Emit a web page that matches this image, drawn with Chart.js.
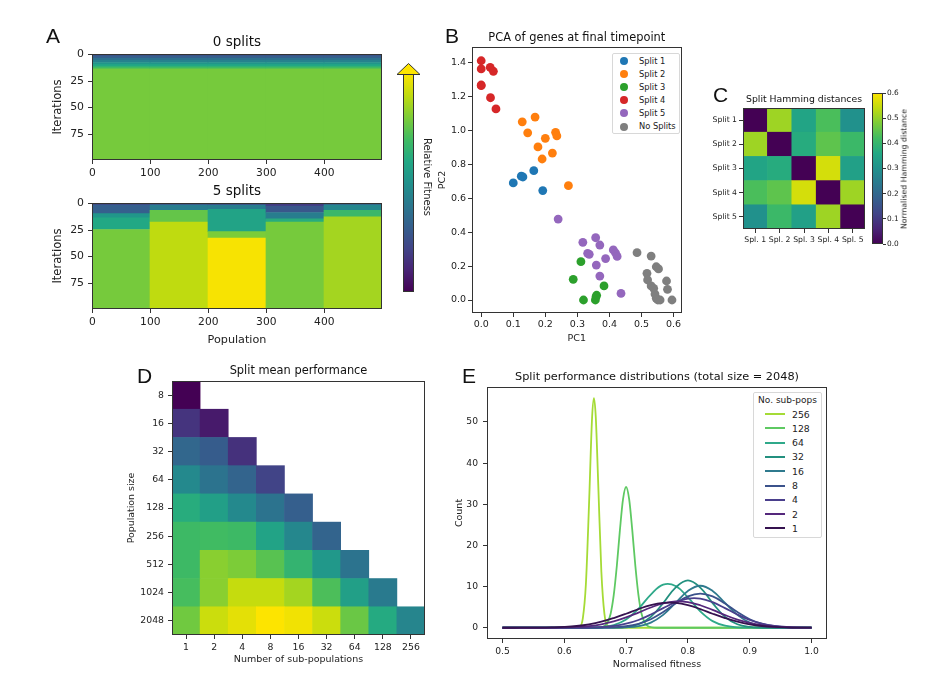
<!doctype html>
<html>

<head>
  <title>Split performance figure</title>
  <script src="https://cdn.jsdelivr.net/npm/chart.js@4/dist/chart.umd.js"></script>
  <style>
  html, body { margin: 0; padding: 0; background: #fff; }
  #page { position: relative; width: 926px; height: 679px; overflow: hidden; background: #fff; filter: blur(0.6px);
    font-family: "DejaVu Sans", sans-serif; color: #222; }
  canvas { position: absolute; }
  .letter { position: absolute; font-family: "Liberation Sans", sans-serif; font-size: 21px; line-height: 1; color: #111; }
  .rot { position: absolute; white-space: nowrap; }
  .legend { position: absolute; box-sizing: border-box; background: #fff; border: 1px solid #d8d8d8; border-radius: 2px; }
  .legend div { position: absolute; white-space: nowrap; }
  </style>
</head>

<body>
  <div id="page"></div>
  <script>
  // panel A: fitness per iteration band, one band list for each sub-population block
  var popTicks = [0, 100, 200, 300, 400];
  var iterTicks = [0, 25, 50, 75];
  var blockCentres = [49.5, 149.5, 249.5, 349.5, 449.5];
  var noSplitEdges = [0, 2, 4, 6, 8, 10, 12, 14, 100];
  var noSplitFitness = [0.24, 0.3, 0.37, 0.44, 0.52, 0.6, 0.7, 0.79];
  var split1Edges = [0, 2, 10, 14, 25, 100];
  var split1Fitness = [0.2, 0.3, 0.52, 0.6, 0.79];
  var split2Edges = [0, 2, 7, 18, 100];
  var split2Fitness = [0.25, 0.42, 0.76, 0.9];
  var split3Edges = [0, 2, 6, 27, 33, 100];
  var split3Fitness = [0.22, 0.42, 0.58, 0.8, 0.99];
  var split4Edges = [0, 3, 9, 15, 18, 100];
  var split4Fitness = [0.17, 0.27, 0.42, 0.62, 0.79];
  var split5Edges = [0, 2, 7, 13, 100];
  var split5Fitness = [0.3, 0.46, 0.68, 0.86];

  // panel B
  var pcaXTicks = [0, 0.1, 0.2, 0.3, 0.4, 0.5, 0.6];
  var pcaYTicks = [0, 0.2, 0.4, 0.6, 0.8, 1, 1.2, 1.4];
  var pcaNames = ['Split 1', 'Split 2', 'Split 3', 'Split 4', 'Split 5', 'No Splits'];
  var split1Pc1 = [0.10, 0.125, 0.13, 0.164, 0.192];
  var split1Pc2 = [0.69, 0.73, 0.725, 0.762, 0.645];
  var split2Pc1 = [0.128, 0.168, 0.145, 0.2, 0.232, 0.236, 0.177, 0.222, 0.19, 0.272];
  var split2Pc2 = [1.05, 1.078, 0.985, 0.953, 0.988, 0.967, 0.902, 0.866, 0.831, 0.674];
  var split3Pc1 = [0.311, 0.287, 0.383, 0.319, 0.36, 0.356, 0.358];
  var split3Pc2 = [0.226, 0.122, 0.083, 0, 0.028, 0, 0.018];
  var split4Pc1 = [0, 0, 0.028, 0.038, 0, 0, 0.029, 0.046];
  var split4Pc2 = [1.41, 1.362, 1.371, 1.348, 1.267, 1.263, 1.192, 1.126];
  var split5Pc1 = [0.24, 0.317, 0.357, 0.37, 0.332, 0.337, 0.412, 0.419, 0.424, 0.388, 0.359, 0.37, 0.436];
  var split5Pc2 = [0.477, 0.34, 0.367, 0.324, 0.275, 0.269, 0.295, 0.277, 0.257, 0.244, 0.206, 0.141, 0.039];
  var noSplitPc1 = [0.486, 0.53, 0.546, 0.553, 0.517, 0.578, 0.519, 0.53, 0.538, 0.581, 0.542, 0.546, 0.551, 0.558, 0.595];
  var noSplitPc2 = [0.279, 0.259, 0.196, 0.183, 0.157, 0.112, 0.118, 0.083, 0.069, 0.063, 0.035, 0.01, 0, 0, 0];

  // panel C
  var hammingCols = ['Spl. 1', 'Spl. 2', 'Spl. 3', 'Spl. 4', 'Spl. 5'];
  var hammingRows = ['Split 1', 'Split 2', 'Split 3', 'Split 4', 'Split 5'];
  var hammingRow1 = [0, 0.51, 0.35, 0.43, 0.30];
  var hammingRow2 = [0.51, 0, 0.37, 0.45, 0.41];
  var hammingRow3 = [0.35, 0.37, 0, 0.56, 0.34];
  var hammingRow4 = [0.43, 0.45, 0.56, 0, 0.51];
  var hammingRow5 = [0.30, 0.41, 0.34, 0.51, 0];
  var hammingTicks = [0, 0.1, 0.2, 0.3, 0.4, 0.5, 0.6];

  // panel D
  var subPops = ['1', '2', '4', '8', '16', '32', '64', '128', '256'];
  var popSizes = ['8', '16', '32', '64', '128', '256', '512', '1024', '2048'];
  var perf8 = [0];
  var perf16 = [0.15, 0.07];
  var perf32 = [0.33, 0.29, 0.14];
  var perf64 = [0.47, 0.38, 0.32, 0.2];
  var perf128 = [0.62, 0.56, 0.47, 0.38, 0.3];
  var perf256 = [0.69, 0.7, 0.69, 0.58, 0.46, 0.32];
  var perf512 = [0.69, 0.82, 0.8, 0.74, 0.66, 0.53, 0.38];
  var perf1024 = [0.71, 0.82, 0.91, 0.91, 0.86, 0.72, 0.56, 0.41];
  var perf2048 = [0.78, 0.92, 0.96, 1, 0.98, 0.92, 0.77, 0.61, 0.45];

  // panel E
  var fitnessTicks = [0.5, 0.6, 0.7, 0.8, 0.9, 1];
  var countTicks = [0, 10, 20, 30, 40, 50];
  var fitnessGrid = [0.5, 0.52, 0.54, 0.56, 0.58, 0.6, 0.62, 0.64, 0.66, 0.68, 0.7, 0.72, 0.74,
    0.76, 0.78, 0.8, 0.82, 0.84, 0.86, 0.88, 0.9, 0.92, 0.94, 0.96, 0.98, 1];
  var fitness256 = [0.5, 0.6, 0.625, 0.63, 0.635, 0.64, 0.645, 0.648, 0.651, 0.655, 0.66, 0.665, 0.67, 0.68, 0.8, 1];
  var count256 = [0, 0, 0.3, 2.3, 10.7, 29.8, 51.1, 55.8, 51.1, 34.6, 13.6, 3.3, 0.5, 0, 0, 0];
  var fitness128 = [0.5, 0.65, 0.665, 0.67, 0.675, 0.68, 0.685, 0.69, 0.695, 0.7, 0.705, 0.71, 0.715, 0.72, 0.725, 0.73, 0.735, 0.75, 1];
  var count128 = [0, 0, 0.4, 1.3, 3.4, 7.9, 15, 23.7, 31.2, 34.2, 31.2, 23.7, 15, 7.9, 3.4, 1.3, 0.4, 0, 0];
  var count64 = [0, 0, 0, 0, 0, 0, 0, 0.03, 0.15, 0.63, 1.97, 4.6, 8.04, 10.45, 10.15, 7.36, 3.99, 1.61, 0.49, 0.11, 0.02, 0, 0, 0, 0, 0];
  var count32 = [0, 0, 0, 0, 0, 0, 0, 0, 0, 0.03, 0.19, 0.84, 2.65, 5.99, 9.76, 11.5, 9.76, 5.99, 2.65, 0.84, 0.19, 0.03, 0, 0, 0, 0];
  var count16 = [0, 0, 0, 0, 0, 0, 0, 0, 0, 0.02, 0.09, 0.38, 1.25, 3.12, 6.03, 8.94, 10.2, 8.94, 6.03, 3.12, 1.25, 0.38, 0.09, 0.02, 0, 0];
  var count8 = [0, 0, 0, 0, 0, 0, 0, 0, 0.03, 0.12, 0.36, 0.95, 2.07, 3.8, 5.87, 7.61, 8.3, 7.61, 5.87, 3.8, 2.07, 0.95, 0.36, 0.12, 0.03, 0];
  var count4 = [0, 0, 0, 0, 0, 0, 0.02, 0.06, 0.17, 0.44, 0.97, 1.88, 3.21, 4.76, 6.2, 7.08, 7.08, 6.2, 4.76, 3.21, 1.88, 0.97, 0.44, 0.17, 0.06, 0.02];
  var count2 = [0, 0, 0, 0, 0.03, 0.07, 0.19, 0.41, 0.83, 1.53, 2.5, 3.69, 4.92, 5.9, 6.38, 6.21, 5.46, 4.32, 3.08, 1.98, 1.15, 0.6, 0.28, 0.12, 0.04, 0.02];
  var count1 = [0, 0, 0.01, 0.03, 0.09, 0.2, 0.42, 0.82, 1.46, 2.35, 3.4, 4.54, 5.49, 6.03, 6.03, 5.49, 4.54, 3.4, 2.35, 1.46, 0.82, 0.42, 0.2, 0.09, 0.03, 0.01];
  var subPopNames = ['256', '128', '64', '32', '16', '8', '4', '2', '1'];

  var tab10 = ['#1f77b4', '#ff7f0e', '#2ca02c', '#d62728', '#9467bd', '#7f7f7f'];
  var lineColors = ['#a5db36', '#5ec962', '#2fa98a', '#23907f', '#2f7a8e', '#3b528b', '#4a3f8c', '#55287c', '#35124f'];
  // viridis, with the blue pulled down at the yellow end the way the reference prints it
  var viridisStops = ['#440154', '#482475', '#414487', '#355f8d', '#2a788e', '#21918c', '#22a884', '#40bb62', '#7ccc38', '#bfdb10', '#fde400'];

  var page = document.getElementById('page');
  var textColor = '#222';

  function viridis(t) {
    var p = Math.max(0, Math.min(1, t)) * 10;
    var i = Math.min(9, Math.floor(p));
    var f = p - i;
    var a = viridisStops[i], b = viridisStops[i + 1];
    var out = [1, 3, 5].map(function(k) {
      var ca = parseInt(a.substr(k, 2), 16), cb = parseInt(b.substr(k, 2), 16);
      return Math.round(ca + (cb - ca) * f);
    });
    return 'rgb(' + out.join(',') + ')';
  }

  function viridisGradient(context) {
    var area = context.chart.chartArea;
    if (!area) return viridisStops[5];
    var g = context.chart.ctx.createLinearGradient(0, area.bottom, 0, area.top);
    viridisStops.forEach(function(c, i) { g.addColorStop(i / 10, c); });
    return g;
  }

  var frame = {
    id: 'frame',
    afterDraw: function(chart) {
      var a = chart.chartArea, ctx = chart.ctx;
      ctx.save();
      ctx.strokeStyle = '#333';
      ctx.lineWidth = 1;
      ctx.strokeRect(Math.round(a.left) + 0.5, Math.round(a.top) + 0.5, Math.round(a.right - a.left) - 1, Math.round(a.bottom - a.top) - 1);
      ctx.restore();
    }
  };

  var arrowHead = {
    id: 'arrowHead',
    afterDraw: function(chart) {
      var a = chart.chartArea, ctx = chart.ctx, mid = (a.left + a.right) / 2;
      ctx.save();
      ctx.fillStyle = '#fde400';
      ctx.strokeStyle = '#333';
      ctx.beginPath();
      ctx.moveTo(mid, a.top - 10.5);
      ctx.lineTo(mid + 11.5, a.top + 0.5);
      ctx.lineTo(mid - 11.5, a.top + 0.5);
      ctx.closePath();
      ctx.fill();
      ctx.stroke();
      ctx.restore();
    }
  };

  // canvas placed so that the plot area lands on plot = [left, top, right, bottom]
  function addChart(plot, m, config, plugins) {
    var canvas = document.createElement('canvas');
    var w = plot[2] - plot[0] + m.l + m.r;
    var h = plot[3] - plot[1] + m.t + m.b;
    canvas.width = w;
    canvas.height = h;
    canvas.style.left = (plot[0] - m.l) + 'px';
    canvas.style.top = (plot[1] - m.t) + 'px';
    canvas.style.width = w + 'px';
    canvas.style.height = h + 'px';
    page.appendChild(canvas);
    config.plugins = plugins;
    config.options.responsive = false;
    config.options.animation = false;
    config.options.devicePixelRatio = 1;
    return new Chart(canvas.getContext('2d'), config);
  }

  function axis(size, fitted, fixedTicks, fmt) {
    var isX = fitted.axis === 'x';
    var opts = {
      grid: { display: true, drawOnChartArea: false, drawTicks: true, tickLength: fitted.tick || 4, tickColor: '#333', tickWidth: 1, offset: false },
      border: { display: false },
      ticks: { color: textColor, padding: fitted.pad, maxRotation: 0, autoSkip: false, font: { family: 'DejaVu Sans', size: size } },
      afterFit: function(scale) {
        if (isX) scale.height = fitted.size; else scale.width = fitted.size;
      }
    };
    if (fixedTicks) {
      opts.afterBuildTicks = function(scale) {
        scale.ticks = fixedTicks.map(function(v) { return { value: v }; });
      };
    }
    if (fmt) opts.ticks.callback = fmt;
    return opts;
  }

  function axisTitle(text, size) {
    return { display: true, text: text, color: textColor, padding: 0, font: { family: 'DejaVu Sans', size: size } };
  }

  function chartTitle(text, size, margin) {
    return {
      display: true, text: text, color: '#111', fullSize: false,
      font: { family: 'DejaVu Sans', size: size, weight: 'normal' },
      padding: { top: 0, bottom: margin - size * 1.2 }
    };
  }

  function heatDataset(cells) {
    return {
      data: cells.map(function(c) { return { x: c.x, y: c.y }; }),
      backgroundColor: cells.map(function(c) { return viridis(c.t); }),
      borderWidth: 0, borderSkipped: false, barPercentage: 1, categoryPercentage: 1, grouped: false
    };
  }

  function bandCells(edgesList, fitnessList) {
    var cells = [];
    edgesList.forEach(function(edges, b) {
      fitnessList[b].forEach(function(t, i) {
        cells.push({ x: blockCentres[b], y: [edges[i] - 0.5, edges[i + 1] - 0.5], t: t });
      });
    });
    return cells;
  }

  function matrixCells(rows, cols) {
    var cells = [];
    rows.forEach(function(row, r) {
      row.forEach(function(t, c) {
        cells.push({ x: cols[c], y: [r - 0.5, r + 0.5], t: t });
      });
    });
    return cells;
  }

  function points(xs, ys) {
    return xs.map(function(x, i) { return { x: x, y: ys[i] }; });
  }

  function addText(cls, text, left, top, size, extra) {
    var el = document.createElement('div');
    el.className = cls;
    el.textContent = text;
    el.style.left = left + 'px';
    el.style.top = top + 'px';
    if (size) el.style.fontSize = size + 'px';
    if (extra) el.style.transform = extra;
    page.appendChild(el);
    return el;
  }

  // panel A
  function fitnessMap(plot, title, edges, fitness, xTitle) {
    var m = { l: 41, t: 20, r: 2, b: xTitle ? 38 : 25 };
    var x = axis(10.7, { axis: 'x', size: m.b, pad: 3 }, popTicks, function(v) { return String(v); });
    x.type = 'linear'; x.min = -0.5; x.max = 499.5; x.offset = false;
    if (xTitle) x.title = axisTitle(xTitle, 11.2);
    var y = axis(10.9, { axis: 'y', size: m.l, pad: 4 }, iterTicks, function(v) { return String(v); });
    y.type = 'linear'; y.min = -0.5; y.max = 99.5; y.reverse = true;
    y.title = axisTitle('Iterations', 11.6);
    addChart(plot, m, {
      type: 'bar',
      data: { datasets: [heatDataset(bandCells(edges, fitness))] },
      options: {
        layout: { padding: { right: m.r } },
        plugins: { legend: { display: false }, tooltip: { enabled: false }, title: chartTitle(title, 13.5, m.t) },
        scales: { x: x, y: y }
      }
    }, [frame]);
  }

  fitnessMap([92, 54, 382, 160], '0 splits',
    [noSplitEdges, noSplitEdges, noSplitEdges, noSplitEdges, noSplitEdges],
    [noSplitFitness, noSplitFitness, noSplitFitness, noSplitFitness, noSplitFitness], null);
  fitnessMap([92, 203, 382, 309], '5 splits',
    [split1Edges, split2Edges, split3Edges, split4Edges, split5Edges],
    [split1Fitness, split2Fitness, split3Fitness, split4Fitness, split5Fitness], 'Population');

  // colour bars
  function colourBar(plot, m, yOpts) {
    addChart(plot, m, {
      type: 'bar',
      data: { labels: ['bar'], datasets: [{ data: [[yOpts.min, yOpts.max]], backgroundColor: viridisGradient, borderWidth: 0, borderSkipped: false, barPercentage: 1, categoryPercentage: 1 }] },
      options: {
        layout: { padding: { left: m.l, right: yOpts.display === false ? m.r : 0, top: m.t, bottom: m.b } },
        plugins: { legend: { display: false }, tooltip: { enabled: false } },
        scales: { x: { display: false }, y: yOpts }
      }
    }, yOpts.display === false ? [arrowHead, frame] : [frame]);
  }

  colourBar([403, 74, 414, 292], { l: 13, t: 13, r: 13, b: 2 }, { type: 'linear', display: false, min: 0, max: 1 });
  addText('rot', 'Relative Fitness', 427, 177, 10, 'translate(-50%,-50%) rotate(90deg)');

  // panel B
  (function() {
    var m = { l: 35, t: 16, r: 2, b: 31 };
    var fmt = function(v) { return v.toFixed(1); };
    var x = axis(9.5, { axis: 'x', size: m.b, pad: 2 }, pcaXTicks, fmt);
    x.type = 'linear'; x.min = -0.0287; x.max = 0.625; x.title = axisTitle('PC1', 9.5);
    var y = axis(9.5, { axis: 'y', size: m.l, pad: 2 }, pcaYTicks, fmt);
    y.type = 'linear'; y.min = -0.0766; y.max = 1.491; y.title = axisTitle('PC2', 9.5);
    var xs = [split1Pc1, split2Pc1, split3Pc1, split4Pc1, split5Pc1, noSplitPc1];
    var ys = [split1Pc2, split2Pc2, split3Pc2, split4Pc2, split5Pc2, noSplitPc2];
    addChart([472, 47, 684, 313], m, {
      type: 'scatter',
      data: {
        datasets: pcaNames.map(function(name, i) {
          return { label: name, data: points(xs[i], ys[i]), backgroundColor: tab10[i], borderWidth: 0, pointRadius: 4.4, order: -i };
        })
      },
      options: {
        layout: { padding: { right: m.r } },
        plugins: { legend: { display: false }, tooltip: { enabled: false }, title: chartTitle('PCA of genes at final timepoint', 11.4, m.t) },
        scales: { x: x, y: y }
      }
    }, [frame]);

    var box = addText('legend', '', 612, 53);
    box.style.width = '68px';
    box.style.height = '81px';
    pcaNames.forEach(function(name, i) {
      var dot = document.createElement('div');
      dot.style.cssText = 'left:7px;top:' + (3 + i * 13.1) + 'px;width:8px;height:8px;border-radius:50%;background:' + tab10[i];
      box.appendChild(dot);
      var label = document.createElement('div');
      label.textContent = name;
      label.style.cssText = 'left:26px;top:' + (1.5 + i * 13.1) + 'px;font-size:8.3px;line-height:11px';
      box.appendChild(label);
    });
  })();

  // panel C
  (function() {
    var m = { l: 52, t: 14, r: 2, b: 18 };
    var x = axis(7.7, { axis: 'x', size: m.b, pad: 2 });
    x.type = 'category'; x.labels = hammingCols; x.offset = true;
    var y = axis(7.7, { axis: 'y', size: m.l, pad: 2 }, [0, 1, 2, 3, 4], function(v) { return hammingRows[v]; });
    y.type = 'linear'; y.min = -0.5; y.max = 4.5; y.reverse = true;
    var rows = [hammingRow1, hammingRow2, hammingRow3, hammingRow4, hammingRow5];
    var cells = matrixCells(rows.map(function(r) { return r.map(function(v) { return v / 0.6; }); }), hammingCols);
    addChart([743, 108, 865, 229], m, {
      type: 'bar',
      data: { labels: hammingCols, datasets: [heatDataset(cells)] },
      options: {
        layout: { padding: { right: m.r } },
        plugins: { legend: { display: false }, tooltip: { enabled: false }, title: chartTitle('Split Hamming distances', 9.3, m.t) },
        scales: { x: x, y: y }
      }
    }, [frame]);

    var barM = { l: 1, t: 8, r: 20, b: 8 };
    var barY = axis(7.4, { axis: 'y', size: barM.r, pad: 1, tick: 3 }, hammingTicks, function(v) { return v.toFixed(1); });
    barY.type = 'linear'; barY.position = 'right'; barY.min = 0; barY.max = 0.6;
    colourBar([872, 93, 883, 244], barM, barY);
    addText('rot', 'Normalised Hamming distance', 904, 169, 7.8, 'translate(-50%,-50%) rotate(-90deg)');
  })();

  // panel D
  (function() {
    var m = { l: 46, t: 17, r: 2, b: 30 };
    var x = axis(9.3, { axis: 'x', size: m.b, pad: 3 });
    x.type = 'category'; x.labels = subPops; x.offset = true; x.title = axisTitle('Number of sub-populations', 9.5);
    var y = axis(9.3, { axis: 'y', size: m.l, pad: 4 }, [0, 1, 2, 3, 4, 5, 6, 7, 8], function(v) { return popSizes[v]; });
    y.type = 'linear'; y.min = -0.5; y.max = 8.5; y.reverse = true; y.title = axisTitle('Population size', 9.4);
    var rows = [perf8, perf16, perf32, perf64, perf128, perf256, perf512, perf1024, perf2048];
    addChart([172, 381, 425, 635], m, {
      type: 'bar',
      data: { labels: subPops, datasets: [heatDataset(matrixCells(rows, subPops))] },
      options: {
        layout: { padding: { right: m.r } },
        plugins: { legend: { display: false }, tooltip: { enabled: false }, title: chartTitle('Split mean performance', 11.4, m.t) },
        scales: { x: x, y: y }
      }
    }, [frame]);
  })();

  // panel E
  (function() {
    var m = { l: 33, t: 17, r: 2, b: 31 };
    var x = axis(9.2, { axis: 'x', size: m.b, pad: 3 }, fitnessTicks, function(v) { return v.toFixed(1); });
    x.type = 'linear'; x.min = 0.475; x.max = 1.025; x.title = axisTitle('Normalised fitness', 9.5);
    var y = axis(9.2, { axis: 'y', size: m.l, pad: 5 }, countTicks, function(v) { return String(v); });
    y.type = 'linear'; y.min = -2.74; y.max = 58.5; y.title = axisTitle('Count', 9.5);
    var series = [points(fitness256, count256), points(fitness128, count128), points(fitnessGrid, count64), points(fitnessGrid, count32),
      points(fitnessGrid, count16), points(fitnessGrid, count8), points(fitnessGrid, count4), points(fitnessGrid, count2), points(fitnessGrid, count1)];
    addChart([487, 387, 827, 639], m, {
      type: 'line',
      data: {
        datasets: subPopNames.map(function(name, i) {
          var line = { label: name, data: series[i], borderColor: lineColors[i], borderWidth: 1.8, pointRadius: 0, order: -i, fill: false };
          if (i < 2) line.cubicInterpolationMode = 'monotone'; else line.tension = 0.4;
          return line;
        })
      },
      options: {
        layout: { padding: { right: m.r } },
        plugins: { legend: { display: false }, tooltip: { enabled: false }, title: chartTitle('Split performance distributions (total size = 2048)', 11.3, m.t) },
        scales: { x: x, y: y }
      }
    }, [frame]);

    var box = addText('legend', '', 753, 392);
    box.style.width = '69px';
    box.style.height = '146px';
    var head = document.createElement('div');
    head.textContent = 'No. sub-pops';
    head.style.cssText = 'left:0;width:67px;text-align:center;top:2px;font-size:9px;line-height:11px';
    box.appendChild(head);
    subPopNames.forEach(function(name, i) {
      var swatch = document.createElement('div');
      swatch.style.cssText = 'left:11px;top:' + Math.round(20 + i * 14.3) + 'px;width:20px;height:2px;background:' + lineColors[i];
      box.appendChild(swatch);
      var label = document.createElement('div');
      label.textContent = name;
      label.style.cssText = 'left:38px;top:' + (15.5 + i * 14.3) + 'px;font-size:9.3px;line-height:11px';
      box.appendChild(label);
    });
  })();

  // panel letters
  addText('letter', 'A', 46, 25);
  addText('letter', 'B', 445, 25);
  addText('letter', 'C', 713, 84);
  addText('letter', 'D', 137, 365);
  addText('letter', 'E', 462, 365);
  </script>
</body>

</html>
